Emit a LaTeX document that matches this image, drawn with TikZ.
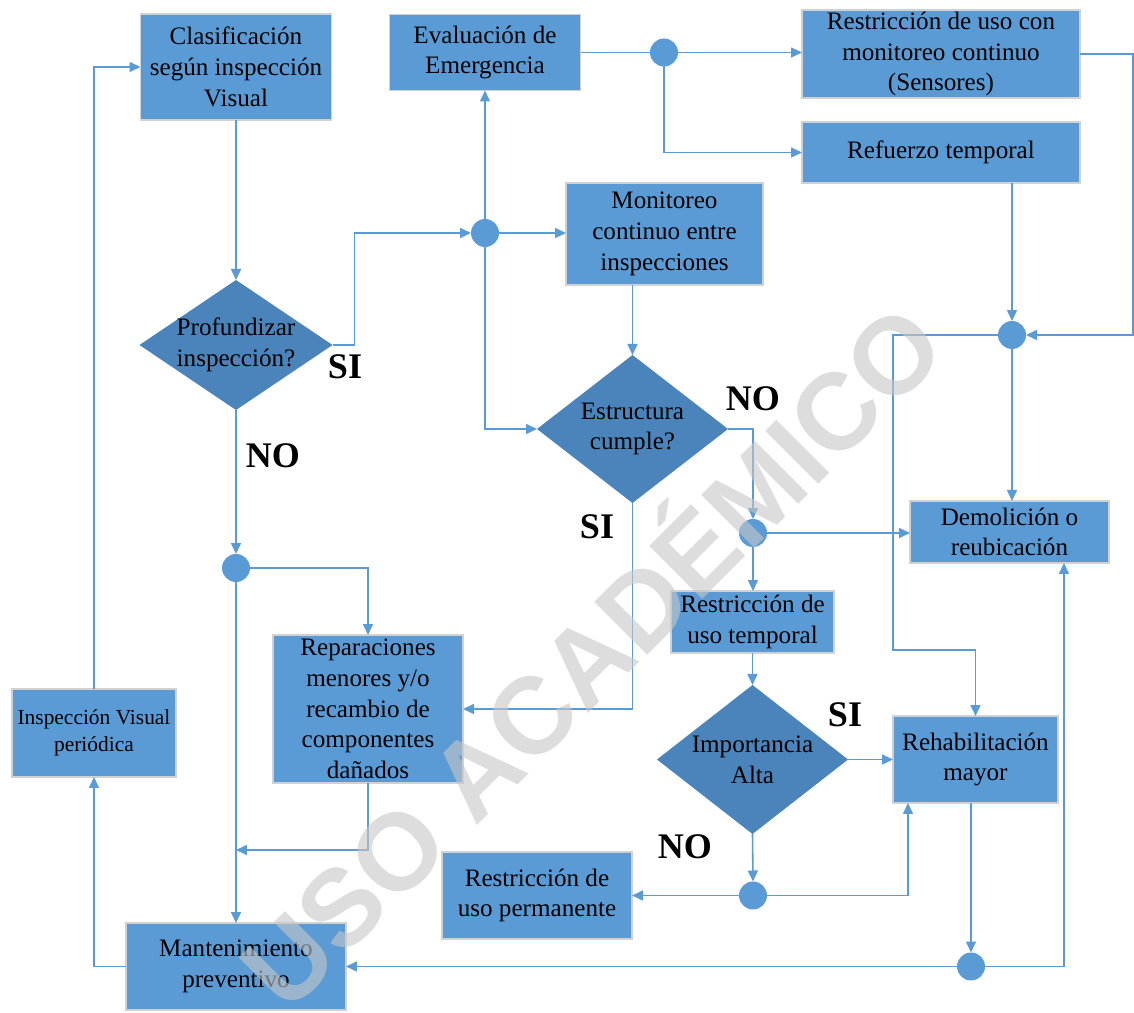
\documentclass[tikz,border=0pt]{standalone}
\usepackage{fontspec}
\setmainfont{Liberation Serif}
\newfontfamily\wmfont{Liberation Sans}
\usetikzlibrary{arrows.meta,shapes.geometric}
\definecolor{boxblue}{HTML}{5B9BD5}
\definecolor{diablue}{HTML}{4A84BA}
\definecolor{lineblue}{HTML}{5B9BD5}
\begin{document}
\begin{tikzpicture}[x=0.02cm,y=-0.02cm,
  sz/.style 2 args={minimum width=#1*0.02cm,minimum height=#2*0.02cm},
  box/.style={draw=black!18, line width=0.6pt, fill=boxblue, align=center, inner sep=0pt, outer sep=0pt,
    font=\fontsize{14.3}{17.5}\selectfont},
  diam/.style={diamond, fill=diablue, inner sep=0pt, outer sep=0pt},
  dtext/.style={align=center, inner sep=0pt, font=\fontsize{14.3}{17.5}\selectfont},
  junc/.style={circle, fill=boxblue, minimum size=0.56cm, inner sep=0pt, outer sep=0pt},
  lbl/.style={inner sep=0pt, font=\fontsize{20.5}{24}\selectfont\bfseries},
  conn/.style={draw=lineblue, line width=0.9pt},
  arr/.style={conn, -{Triangle[length=0.22cm,width=0.2cm]}},
  wm/.style={text=black!22, opacity=0.6, inner sep=0pt, font=\wmfont\fontsize{62}{70}\selectfont\bfseries}
]
\useasboundingbox (0,0) rectangle (1134,1013);
\fill[white] (0,0) rectangle (1134,1013);

% boxes
\node[box, sz={191}{106}] (clas) at (236,67) {Clasificación\\según inspección\\Visual};
\node[box, sz={191}{76}] (eval) at (485,52.5) {Evaluación de\\Emergencia};
\node[box, sz={278}{88}] (rmon) at (941,54) {Restricción de uso con\\monitoreo continuo\\(Sensores)};
\node[box, sz={278}{61}] (refu) at (941,152.5) {Refuerzo temporal};
\node[box, sz={197}{102}] (moni) at (664.5,234) {Monitoreo\\continuo entre\\inspecciones};
\node[diam, sz={193}{130}] (prof) at (236,345) {};
\node[dtext] (proft) at (prof) {Profundizar\\inspección?};
\node[diam, sz={191}{148}] (estr) at (632.5,429) {};
\node[dtext] (estrt) at (estr) {Estructura\\cumple?};
\node[box, sz={199}{62}] (demo) at (1009.5,532) {Demolición o\\reubicación};
\node[box, sz={163}{62}] (rtem) at (752.5,622) {Restricción de\\uso temporal};
\node[diam, sz={191}{149}] (impo) at (752.5,759.5) {};
\node[dtext] (impot) at (impo) {Importancia\\Alta};
\node[box, sz={165}{87}] (reha) at (975.5,759.5) {Rehabilitación\\mayor};
\node[box, sz={190}{87}] (rper) at (537,895.5) {Restricción de\\uso permanente};
\node[box, sz={190}{148}] (repa) at (368,709) {Reparaciones\\menores y/o\\recambio de\\componentes\\dañados};
\node[box, sz={164}{88}, font=\fontsize{12.2}{15}\selectfont] (insp) at (94,733) {Inspección Visual\\periódica};
\node[box, sz={220}{87}] (mant) at (236,966.5) {Mantenimiento\\preventivo};

% junctions
\node[junc] (j1) at (485,233) {};
\node[junc] (j2) at (664,52.5) {};
\node[junc] (j3) at (1012,335) {};
\node[junc] (j4) at (753,533) {};
\node[junc] (j5) at (236,568) {};
\node[junc] (j6) at (753,895.5) {};
\node[junc] (j7) at (971,966.5) {};
\coordinate (m1) at (236,850);

% connectors
\draw[arr] (clas) -- (prof);
\draw[arr] (prof.east) -- ++(22,0) |- (j1.west);
\draw[arr] (j1.east) -- (j1.east -| moni.west);
\draw[arr] (j1.north) -- (j1.north |- eval.south);
\draw[arr] (j1.south) |- (estr.west);
\draw[conn] (eval.east) -- (j2.west);
\draw[arr] (j2.east) -- (j2.east -| rmon.west);
\draw[arr] (j2.south) |- (refu.west);
\draw[arr] (rmon.east) -- ++(53,0) |- (j3.east);
\draw[arr] (j3 |- refu.south) -- (j3.north);
\draw[arr] (j3.south) -- (j3.south |- demo.north);
\draw[arr] (j3.west) -| (893,650) -| (reha.north);
\draw[arr] (estr.north |- moni.south) -- (estr.north);
\draw[arr] (estr.east) -| (j4.north);
\draw[arr] (j4.east) -- (j4.east -| demo.west);
\draw[arr] (j4.south) -- (j4.south |- rtem.north);
\draw[arr] (estr.south) |- (repa.east);
\draw[arr] (rtem) -- (impo);
\draw[arr] (impo.east) -- (impo.east -| reha.west);
\draw[arr] (impo.south) -- (j6.north);
\draw[arr] (j6.west) -- (j6.west -| rper.east);
\draw[arr] (j6.east) -| ([xshift=0.3cm]reha.south west);
\draw[arr] (j7 |- reha.south) -- (j7.north);
\draw[arr] (j7.east) -| ([xshift=1.09cm]demo.south);
\draw[arr] (j7.west) -- (j7.west -| mant.east);
\draw[arr] (mant.west) -| (insp.south);
\draw[arr] (insp.north) |- (clas.west);
\draw[arr] (prof.south) -- (j5.north);
\draw[arr] (j5.east) -| (repa.north);
\draw[arr] (j5.south) -- (j5.south |- mant.north);
\draw[arr] (repa.south) |- (m1);

% labels
\node[lbl] (si1) at (345,367) {SI};
\node[lbl] (no1) at (273,456) {NO};
\node[lbl] (no2) at (753,399) {NO};
\node[lbl] (si2) at (597,527) {SI};
\node[lbl] (si3) at (845,715) {SI};
\node[lbl] (no3) at (685,847) {NO};

% watermark
\node[wm, rotate=45] (wmark) at (585,650) {USO ACADÉMICO};
\end{tikzpicture}
\end{document}
